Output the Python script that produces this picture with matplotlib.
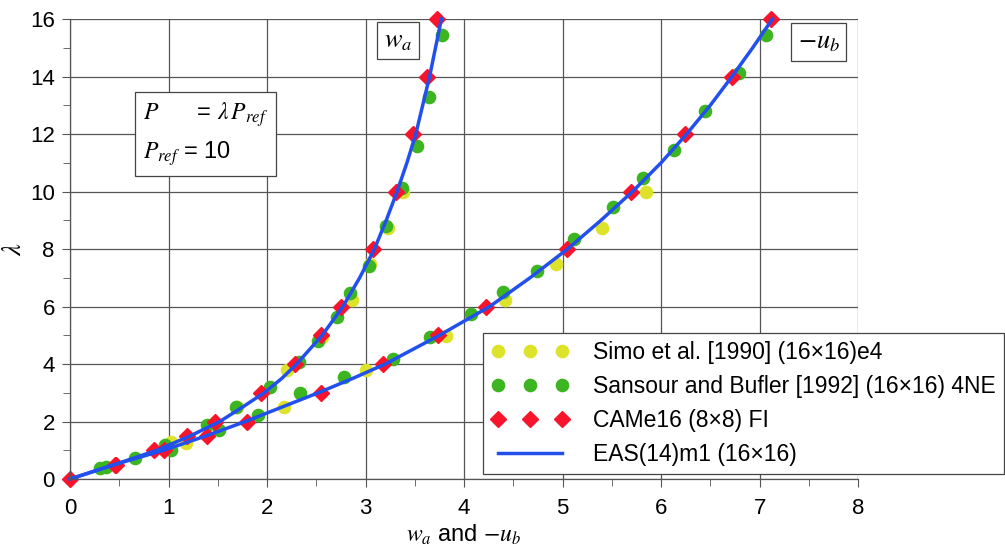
import matplotlib.pyplot as plt
from matplotlib.ticker import MultipleLocator

plt.rcParams['font.family'] = ['Liberation Sans', 'DejaVu Sans']
plt.rcParams['mathtext.fontset'] = 'stix'

# Simo et al. [1990] (16x16)e4
simo_wa_x = [1.02, 1.69, 2.20, 2.56, 2.86, 3.05, 3.23, 3.38]
simo_wa_y = [1.28, 2.50, 3.80, 4.95, 6.22, 7.47, 8.72, 10.0]
simo_ub_x = [1.18, 2.17, 3.00, 3.82, 4.42, 4.93, 5.40, 5.85]
simo_ub_y = [1.24, 2.50, 3.79, 4.98, 6.23, 7.47, 8.72, 10.0]

# Sansour and Bufler [1992] (16x16) 4NE
sans_wa_x = [0.30, 0.66, 0.96, 1.39, 1.68, 2.03, 2.32, 2.52, 2.71, 2.84,
             3.03, 3.21, 3.37, 3.52, 3.64, 3.78]
sans_wa_y = [0.38, 0.73, 1.20, 1.88, 2.50, 3.20, 4.07, 4.80, 5.65, 6.47,
             7.42, 8.80, 10.14, 11.60, 13.30, 15.45]
sans_ub_x = [0.37, 1.02, 1.51, 1.91, 2.33, 2.78, 3.28, 3.65, 4.07, 4.40,
             4.74, 5.12, 5.51, 5.82, 6.13, 6.45, 6.79, 7.07]
sans_ub_y = [0.42, 1.00, 1.70, 2.23, 3.00, 3.56, 4.17, 4.95, 5.73, 6.50,
             7.24, 8.34, 9.45, 10.46, 11.44, 12.80, 14.12, 15.44]

# CAMe16 (8x8) FI
came_wa_x = [0, 0.46, 0.85, 1.19, 1.47, 1.94, 2.28, 2.55, 2.75, 3.08, 3.31, 3.48, 3.62, 3.73]
came_wa_y = [0, 0.5, 1, 1.5, 2, 3, 4, 5, 6, 8, 10, 12, 14, 16]
came_ub_x = [0.47, 0.95, 1.39, 1.80, 2.55, 3.18, 3.74, 4.22, 5.04, 5.69, 6.24, 6.72, 7.12]
came_ub_y = [0.5, 1, 1.5, 2, 3, 4, 5, 6, 8, 10, 12, 14, 16]

# EAS(14)m1 (16x16)
eas_lam = [0, 0.5, 1, 1.5, 2, 2.5, 3, 3.5, 4, 5, 6, 7, 8, 9, 10, 11, 12, 13, 14, 15, 16]
eas_wa = [0, 0.45, 0.88, 1.22, 1.52, 1.75, 1.97, 2.15, 2.30, 2.56, 2.77, 2.94,
          3.09, 3.21, 3.32, 3.42, 3.51, 3.58, 3.65, 3.71, 3.77]
eas_ub = [0, 0.45, 0.95, 1.38, 1.78, 2.15, 2.52, 2.87, 3.20, 3.75, 4.26, 4.67,
          5.05, 5.39, 5.71, 6.00, 6.26, 6.50, 6.72, 6.93, 7.13]

yellow = '#dde22a'
green = '#3cb521'
red = '#f8142a'
blue = '#2250ee'

fig = plt.figure(figsize=(10.05, 5.6), dpi=100)
ax = fig.add_axes([0.0697, 0.1446, 0.7841, 0.8214])

mk = dict(clip_on=False, ls='none')
ax.plot(simo_wa_x, simo_wa_y, 'o', color=yellow, ms=8.8, label='Simo et al. [1990] (16×16)e4', **mk)
ax.plot(simo_ub_x, simo_ub_y, 'o', color=yellow, ms=8.8, **mk)
ax.plot(sans_wa_x, sans_wa_y, 'o', color=green, ms=8.8, label='Sansour and Bufler [1992] (16×16) 4NE', **mk)
ax.plot(sans_ub_x, sans_ub_y, 'o', color=green, ms=8.8, **mk)
ax.plot(came_wa_x, came_wa_y, 'D', color=red, ms=8.5, label='CAMe16 (8×8) FI', **mk)
ax.plot(came_ub_x, came_ub_y, 'D', color=red, ms=8.5, **mk)
ax.plot(eas_wa, eas_lam, '-', color=blue, lw=2.5, label='EAS(14)m1 (16×16)', clip_on=False)
ax.plot(eas_ub, eas_lam, '-', color=blue, lw=2.5, clip_on=False)

ax.set_xlim(0, 8)
ax.set_ylim(0, 16)
ax.xaxis.set_major_locator(MultipleLocator(1))
ax.xaxis.set_minor_locator(MultipleLocator(0.5))
ax.yaxis.set_major_locator(MultipleLocator(2))
ax.yaxis.set_minor_locator(MultipleLocator(1))
ax.grid(True, which='major', color='#555555', lw=0.9)
ax.set_axisbelow(True)
for s in ['top', 'right']:
    ax.spines[s].set_visible(False)
for s in ['left', 'bottom']:
    ax.spines[s].set_color('#555555')
    ax.spines[s].set_linewidth(0.9)
ax.tick_params(which='both', direction='out', colors='#555555', labelcolor='black',
               labelsize=16)
ax.tick_params(axis='y', pad=5)
ax.tick_params(axis='x', pad=8)
ax.tick_params(which='major', length=6)
ax.tick_params(which='minor', length=5)

ax.set_xlabel(r'$w_a$ and $-u_b$', fontsize=17, labelpad=2)
ax.set_ylabel(r'$\lambda$', fontsize=19, labelpad=3)

box = dict(boxstyle='square,pad=0.25', fc='white', ec='#444444', lw=0.9)
ax.text(3.33, 15.25, r'$w_a$', fontsize=19, ha='center', va='center', bbox=box)
ax.text(7.6, 15.2, r'$-u_b$', fontsize=19, ha='center', va='center', bbox=box)
ax.text(0.74, 12.0, '$P$      = $\\lambda\\, P_{ref}$\n$P_{ref}$ = 10', fontsize=17,
        ha='left', va='center', linespacing=1.5,
        bbox=dict(boxstyle='square,pad=0.35', fc='white', ec='#444444', lw=0.9))

leg = ax.legend(loc='upper left', bbox_to_anchor=(0.524, 0.317), borderaxespad=0,
                numpoints=3, fontsize=16.5, handlelength=3.4, handletextpad=1.05,
                labelspacing=0.47, borderpad=0.35, fancybox=False, framealpha=1,
                edgecolor='#444444')
leg.get_frame().set_linewidth(0.9)

fig.savefig('out.png', dpi=100)
